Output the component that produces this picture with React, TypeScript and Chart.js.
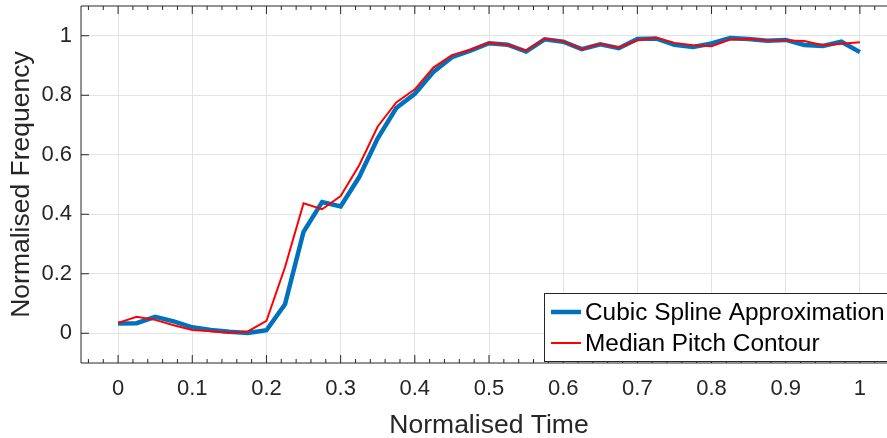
import React, { useEffect, useRef } from "react";
import { Chart, registerables } from "chart.js";

Chart.register(...registerables);

const times = [
  0, 0.025, 0.05, 0.075, 0.1, 0.125, 0.15, 0.175, 0.2, 0.225, 0.25, 0.275, 0.3, 0.325, 0.35, 0.375, 0.4,
  0.425, 0.45, 0.475, 0.5, 0.525, 0.55, 0.575, 0.6, 0.625, 0.65, 0.675, 0.7, 0.725, 0.75, 0.775, 0.8,
  0.825, 0.85, 0.875, 0.9, 0.925, 0.95, 0.975, 1,
];

const splineValues = [
  0.033, 0.034, 0.055, 0.04, 0.02, 0.011, 0.005, 0.001, 0.01, 0.097, 0.341, 0.441, 0.426, 0.525, 0.655,
  0.757, 0.805, 0.878, 0.928, 0.95, 0.975, 0.97, 0.947, 0.988, 0.98, 0.955, 0.971, 0.958, 0.989, 0.991,
  0.97, 0.962, 0.974, 0.992, 0.989, 0.983, 0.986, 0.969, 0.966, 0.98, 0.945,
];

const medianValues = [
  0.035, 0.055, 0.045, 0.027, 0.011, 0.007, 0.002, 0.006, 0.042, 0.222, 0.437, 0.417, 0.461, 0.565, 0.695,
  0.776, 0.82, 0.893, 0.935, 0.953, 0.976, 0.97, 0.95, 0.99, 0.982, 0.955, 0.973, 0.96, 0.985, 0.993,
  0.976, 0.968, 0.965, 0.987, 0.989, 0.985, 0.984, 0.982, 0.968, 0.973, 0.978,
];

const xTicks = [0, 0.1, 0.2, 0.3, 0.4, 0.5, 0.6, 0.7, 0.8, 0.9, 1];
const yTicks = [0, 0.2, 0.4, 0.6, 0.8, 1];
const seriesLabels = ["Cubic Spline Approximation", "Median Pitch Contour"];
const xTitle = "Normalised Time";
const yTitle = "Normalised Frequency";

const FONT = "'Liberation Sans', Arial, Helvetica, sans-serif";
const AXIS = "#262626";
const GRID = "#e3e3e3";

const fmt = (v: number) => String(Math.round(v * 10) / 10);

const matlabAxes = {
  id: "matlabAxes",
  afterDraw(chart: any) {
    const { ctx, chartArea, scales } = chart;
    const { left, right, top, bottom } = chartArea;
    const x = scales.x;
    const y = scales.y;
    ctx.save();
    ctx.strokeStyle = AXIS;
    ctx.lineWidth = 1;
    ctx.beginPath();
    ctx.moveTo(left, top);
    ctx.lineTo(right, top);
    ctx.moveTo(left, bottom);
    ctx.lineTo(right, bottom);
    ctx.moveTo(left, top);
    ctx.lineTo(left, bottom);
    ctx.moveTo(right, top);
    ctx.lineTo(right, bottom);
    ctx.stroke();
    ctx.beginPath();
    for (let k = -2; k <= 52; k++) {
      const v = k * 0.02;
      const isMajor = k % 5 === 0;
      const len = isMajor ? 8 : 4;
      const px = x.getPixelForValue(v);
      if (px < left || px > right) continue;
      ctx.moveTo(px, bottom);
      ctx.lineTo(px, bottom - len);
      ctx.moveTo(px, top);
      ctx.lineTo(px, top + len);
    }
    for (const v of yTicks) {
      const py = y.getPixelForValue(v);
      ctx.moveTo(left, py);
      ctx.lineTo(left + 8, py);
      ctx.moveTo(right, py);
      ctx.lineTo(right - 8, py);
    }
    ctx.stroke();

    // legend
    const bx = 544;
    const by = bottom - 70;
    const bw = right - 5 - bx;
    const bh = 68;
    ctx.fillStyle = "#ffffff";
    ctx.fillRect(bx, by, bw, bh);
    ctx.strokeStyle = AXIS;
    ctx.lineWidth = 1;
    ctx.strokeRect(bx + 0.5, by + 0.5, bw, bh);
    const ds = chart.data.datasets;
    const rows = [by + 19, by + 50];
    ctx.font = `24.4px ${FONT}`;
    ctx.textBaseline = "middle";
    ctx.textAlign = "left";
    ds.forEach((d: any, i: number) => {
      ctx.strokeStyle = d.borderColor;
      ctx.lineWidth = d.borderWidth;
      ctx.beginPath();
      ctx.moveTo(551, rows[i]);
      ctx.lineTo(581, rows[i]);
      ctx.stroke();
      ctx.fillStyle = "#000000";
      ctx.fillText(d.label, 585, rows[i] + 1);
    });
    ctx.restore();
  },
};

export default function App() {
  const ref = useRef<HTMLCanvasElement>(null);
  useEffect(() => {
    document.body.style.margin = "0";
    const chart = new Chart(ref.current as HTMLCanvasElement, {
      type: "line",
      data: {
        datasets: [
          {
            label: seriesLabels[0],
            data: times.map((t, i) => ({ x: t, y: splineValues[i] })),
            borderColor: "#0072BD",
            backgroundColor: "#0072BD",
            borderWidth: 4.5,
            pointRadius: 0,
            tension: 0,
            order: 2,
          },
          {
            label: seriesLabels[1],
            data: times.map((t, i) => ({ x: t, y: medianValues[i] })),
            borderColor: "#FF0000",
            backgroundColor: "#FF0000",
            borderWidth: 2,
            pointRadius: 0,
            tension: 0,
            order: 1,
          },
        ],
      },
      options: {
        animation: false,
        responsive: true,
        maintainAspectRatio: false,
        layout: { padding: { top: 6, left: 0, right: 0, bottom: 0 } },
        plugins: { legend: { display: false }, tooltip: { enabled: false } },
        scales: {
          x: {
            type: "linear",
            min: -0.05,
            max: 1.05,
            afterBuildTicks: (s: any) => {
              s.ticks = xTicks.map((v) => ({ value: v }));
            },
            afterFit: (s: any) => {
              s.height = 75;
              s.paddingLeft = 0;
              s.paddingRight = 0;
            },
            grid: { color: GRID, drawTicks: false },
            border: { display: false },
            ticks: {
              padding: 13,
              color: AXIS,
              autoSkip: false,
              maxRotation: 0,
              font: { family: FONT, size: 22 },
              callback: (v: any) => fmt(Number(v)),
            },
            title: {
              display: true,
              text: xTitle,
              color: AXIS,
              font: { family: FONT, size: 26.5, lineHeight: 1 },
              padding: { top: 0, bottom: -1 },
            },
          },
          y: {
            type: "linear",
            min: -0.1,
            max: 1.1,
            afterBuildTicks: (s: any) => {
              s.ticks = yTicks.map((v) => ({ value: v }));
            },
            afterFit: (s: any) => {
              s.width = 81;
              s.paddingTop = 0;
              s.paddingBottom = 0;
            },
            grid: { color: GRID, drawTicks: false },
            border: { display: false },
            ticks: {
              padding: 9,
              color: AXIS,
              font: { family: FONT, size: 22 },
              callback: (v: any) => fmt(Number(v)),
            },
            title: {
              display: true,
              text: yTitle,
              color: AXIS,
              font: { family: FONT, size: 26.5, lineHeight: 1.2 },
              padding: { top: 6, bottom: 0 },
            },
          },
        },
      },
      plugins: [matlabAxes],
    } as any);
    return () => chart.destroy();
  }, []);
  return (
    <div
      style={{
        position: "absolute",
        left: 0,
        top: 0,
        width: 887,
        height: 438,
        overflow: "hidden",
        background: "#ffffff",
      }}
    >
      <div style={{ position: "relative", width: 897, height: 438 }}>
        <canvas ref={ref} />
      </div>
    </div>
  );
}
